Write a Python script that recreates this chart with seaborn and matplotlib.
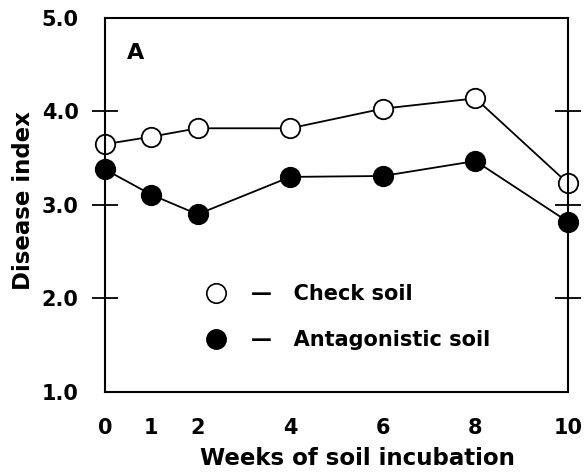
import matplotlib
matplotlib.use("Agg")
import matplotlib.pyplot as plt
import seaborn as sns
import pandas as pd
from matplotlib.lines import Line2D

weeks = [0, 1, 2, 4, 6, 8, 10]
check_soil = [3.65, 3.73, 3.82, 3.82, 4.03, 4.14, 3.23]
antagonistic_soil = [3.38, 3.11, 2.90, 3.30, 3.31, 3.47, 2.82]
xtick_labels = ["0", "1", "2", "4", "6", "8", "10"]
ytick_major = [1.0, 2.0, 3.0, 4.0, 5.0]
ytick_unmarked = [1.0, 5.0]

sns.set_style("white")
plt.rcParams['font.family'] = ['DejaVu Sans']
plt.rcParams['font.weight'] = 'bold'
plt.rcParams['text.color'] = 'black'
plt.rcParams['axes.labelcolor'] = 'black'
plt.rcParams['xtick.color'] = 'black'
plt.rcParams['ytick.color'] = 'black'

fig = plt.figure(figsize=(5.85, 4.72), dpi=100)
ax = fig.add_axes([0.1795, 0.1695, 0.7915, 0.7925])

df = pd.DataFrame({"week": weeks, "check": check_soil, "antag": antagonistic_soil})

sns.lineplot(data=df, x="week", y="check", ax=ax, color="black", linewidth=1.3,
             marker="o", markersize=14, markerfacecolor="white",
             markeredgecolor="black", markeredgewidth=1.3, clip_on=False, legend=False)
sns.lineplot(data=df, x="week", y="antag", ax=ax, color="black", linewidth=1.3,
             marker="o", markersize=14, markerfacecolor="black",
             markeredgecolor="black", markeredgewidth=1.3, clip_on=False, legend=False)

ax.set_xlim(0, 10)
ax.set_ylim(1.0, 5.0)
ax.set_xticks(weeks)
ax.set_xticklabels(xtick_labels)
ax.set_yticks(ytick_major)
ax.set_yticklabels([f"{v:.1f}" for v in ytick_major])
ax.tick_params(axis="x", which="major", length=0, labelsize=15, pad=19,
               labelcolor="black")
ax.tick_params(axis="y", which="major", direction="inout", length=19, width=1.3,
               left=True, right=True, labelsize=15, pad=9.5, labelcolor="black",
               color="black")
for t, v in zip(ax.yaxis.get_major_ticks(), ytick_major):
    if v in ytick_unmarked:
        t.tick1line.set_visible(False)
        t.tick2line.set_visible(False)
for s in ax.spines.values():
    s.set_visible(True)
    s.set_linewidth(1.5)
    s.set_color("black")

ax.set_xlabel("Weeks of soil incubation", fontsize=16.5, fontweight="bold")
ax.xaxis.set_label_coords(0.546, -0.148)
ax.set_ylabel("Disease index", fontsize=16.5, fontweight="bold")
ax.yaxis.set_label_coords(-0.152, 0.513)

ax.text(0.048, 0.906, "A", transform=ax.transAxes, fontsize=16, fontweight="bold",
        ha="left", va="center")

handles = [
    Line2D([], [], marker="o", ls="none", markersize=14, markerfacecolor="white",
           markeredgecolor="black", markeredgewidth=1.2),
    Line2D([], [], marker="o", ls="none", markersize=14, markerfacecolor="black",
           markeredgecolor="black"),
]
labels = ["—   Check soil", "—   Antagonistic soil"]
ax.legend(handles, labels, loc="center left", bbox_to_anchor=(0.172, 0.2),
          frameon=False, prop={"size": 15, "weight": "bold"},
          labelspacing=1.25, handletextpad=1.1, handlelength=1.2)

fig.savefig("out.png", dpi=100)
